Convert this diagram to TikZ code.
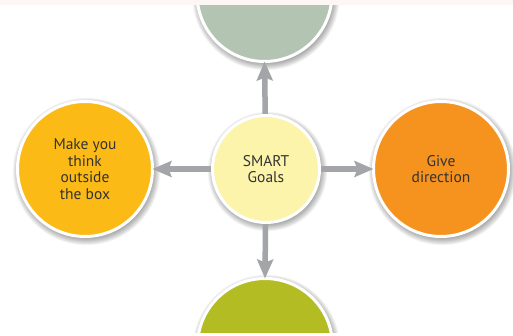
\documentclass[tikz,border=0pt]{standalone}
\usepackage{fontspec}
\setmainfont{PT Sans}
\usetikzlibrary{arrows.meta}
\definecolor{sagec}{HTML}{B3C4B2}
\definecolor{centerc}{HTML}{FBF4AA}
\definecolor{leftc}{HTML}{FBBA16}
\definecolor{rightc}{HTML}{F6921E}
\definecolor{bottomc}{HTML}{B3BC22}
\definecolor{arrowc}{HTML}{A3A5A8}
\definecolor{textc}{HTML}{333333}
\definecolor{stripc}{HTML}{FCF6F4}
\tikzset{
  bubble/.style={circle, draw=white, line width=3pt, inner sep=0pt, outer sep=0pt,
    align=center, text=textc, font=\fontsize{15.5}{16.5}\selectfont},
  big/.style={bubble, minimum size=135pt},
  small/.style={bubble, minimum size=107pt},
  arr/.style={arrowc, line width=5.5pt, -{Stealth[length=19pt,width=16pt,inset=3pt]}, shorten >=0pt}
}
\newcommand\softshadow[3]{%
  \foreach \k in {1,...,10}{\fill[black,opacity=0.04] (#1+1.5,#2+2.5) circle ({#3+5.5-\k*0.8});}}
\begin{document}
\begin{tikzpicture}[x=1pt,y=-1pt]
\useasboundingbox (0,0) rectangle (513,336);
\fill[white] (0,0) rectangle (513,336);
\softshadow{264.5}{-6}{69}
\softshadow{265}{346}{69}
\softshadow{85}{169}{69}
\softshadow{441}{169}{69}
\softshadow{266}{169}{55}
\node[big, fill=sagec] (top) at (264.5,-6) {};
\node[big, fill=bottomc] (bottom) at (265,346) {};
\node[big, fill=leftc] (left) at (85,169) {Make you\\think\\outside\\the box};
\node[big, fill=rightc] (right) at (441,169) {Give\\direction};
\draw[arr] (266,169) -- (top.south);
\draw[arr] (266,169) -- (bottom.north);
\draw[arr] (266,169) -- (left.east);
\draw[arr] (266,169) -- (right.west);
\node[small, fill=centerc] (c) at (266,169) {SMART\\Goals};
\fill[stripc] (0,0) rectangle (513,5.5);
\fill[white] (0,333) rectangle (513,336);
\end{tikzpicture}
\end{document}
